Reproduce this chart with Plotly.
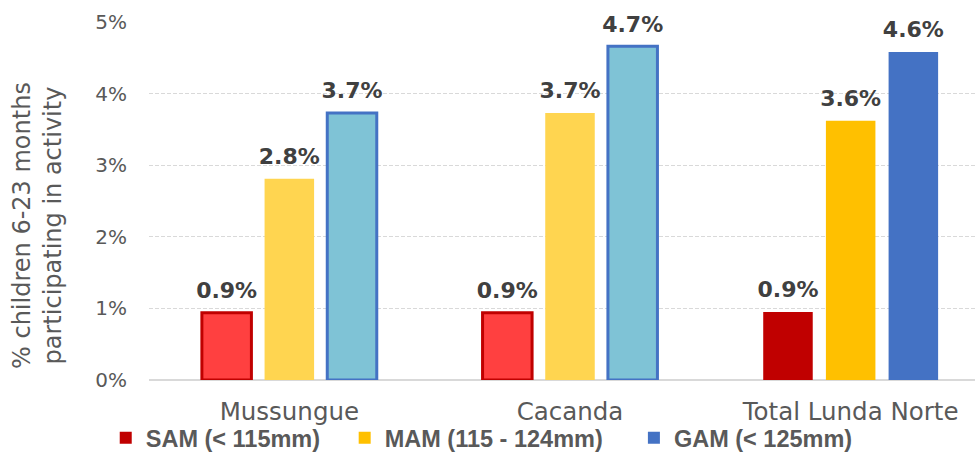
import plotly.graph_objects as go

categories = ["Mussungue", "Cacanda", "Total Lunda Norte"]
series_names = ["SAM (< 115mm)", "MAM (115 - 124mm)", "GAM (< 125mm)"]
sam = [0.0094, 0.0094, 0.00949]
mam = [0.0281, 0.0373, 0.0362]
gam = [0.0373, 0.0466, 0.0458]
y_title = "% children 6-23 months<br>participating in activity"

fills = {
    "SAM": ["#FF4040", "#FF4040", "#C00000"],
    "MAM": ["#FFD550", "#FFD550", "#FFC000"],
    "GAM": ["#7FC3D6", "#7FC3D6", "#4472C4"],
}
borders = {
    "SAM": (["#C00000", "#C00000", "#C00000"], [3, 3, 0]),
    "MAM": (["#FFD550", "#FFD550", "#FFC000"], [0, 0, 0]),
    "GAM": (["#4472C4", "#4472C4", "#4472C4"], [3, 3, 0]),
}
legend_pad = ["\u00a0\u00a0\u00a0", "\u00a0\u00a0\u00a0\u00a0", ""]

# data ordered with the "Total" point first so the legend swatch uses the solid colour
order = [2, 0, 1]
fig = go.Figure()
for key, name, pad, vals in zip(["SAM", "MAM", "GAM"], series_names, legend_pad, [sam, mam, gam]):
    lc, lw = borders[key]
    xs = [categories[i] for i in order]
    ys = [vals[i] for i in order]
    fig.add_trace(go.Bar(
        name=name + pad,
        x=xs, y=ys,
        offsetgroup=key,
        marker=dict(color=[fills[key][i] for i in order],
                    line=dict(color=[lc[i] for i in order], width=[lw[i] for i in order])),
        hoverinfo="skip",
    ))
    fig.add_trace(go.Scatter(
        x=xs, y=ys, offsetgroup=key, mode="markers+text",
        marker=dict(size=13, opacity=0),
        texttemplate="%{y:.1%}", textposition="top center",
        cliponaxis=False, showlegend=False, hoverinfo="skip",
        textfont=dict(family="DejaVu Sans", size=22, color="#404040", weight="bold"),
    ))

fig.update_layout(
    width=979, height=460,
    margin=dict(l=149, r=4, t=22, b=80),
    barmode="group", bargap=0.33, bargroupgap=0.21,
    scattermode="group", scattergap=0.33,
    plot_bgcolor="white", paper_bgcolor="white",
    font=dict(family="DejaVu Sans", color="#595959"),
    legend=dict(orientation="h", x=0.108, xanchor="left", y=-0.012, yanchor="bottom",
                xref="container", yref="container", bgcolor="rgba(0,0,0,0)",
                font=dict(family="Liberation Sans", size=23.5, color="#595959", weight="bold"),
                itemwidth=30),
    showlegend=True,
    annotations=[dict(text=y_title, textangle=-90, xref="paper", yref="paper",
                      x=-0.1344, y=0.433, xanchor="center", yanchor="middle",
                      showarrow=False, font=dict(family="DejaVu Sans", size=24, color="#595959"))],
)
fig.update_xaxes(categoryorder="array", categoryarray=categories, range=[-0.5, 2.443],
                 tickfont=dict(size=24.5, color="#595959"), ticklabelstandoff=14,
                 showline=False, showgrid=False, zeroline=False, automargin=False)
fig.update_yaxes(range=[0, 0.05], dtick=0.01, tickformat=".0%",
                 tickfont=dict(size=20, color="#595959"), ticklabelstandoff=21,
                 showgrid=True, gridcolor="#D9D9D9", griddash="4px,2px", gridwidth=1,
                 zeroline=True, zerolinecolor="#D9D9D9", zerolinewidth=2, automargin=False)
fig.write_html("out.html", config={"displayModeBar": False},
               post_script="document.body.style.margin='0';")
